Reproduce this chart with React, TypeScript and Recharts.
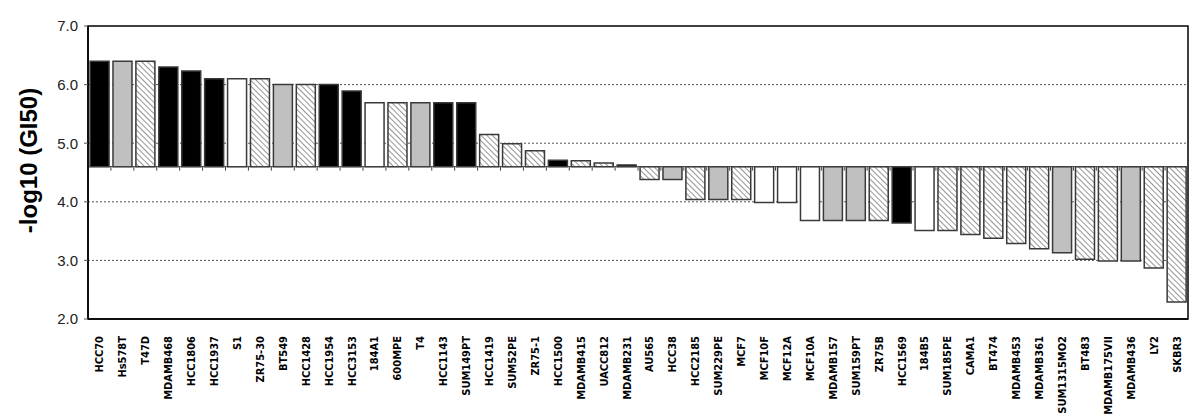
import { Bar, BarChart, CartesianGrid, Cell, ReferenceArea, ReferenceLine, XAxis, YAxis } from "recharts";

const cellLines = [
  "HCC70", "Hs578T", "T47D", "MDAMB468", "HCC1806", "HCC1937", "S1", "ZR75-30",
  "BT549", "HCC1428", "HCC1954", "HCC3153", "184A1", "600MPE", "T4", "HCC1143",
  "SUM149PT", "HCC1419", "SUM52PE", "ZR75-1", "HCC1500", "MDAMB415", "UACC812", "MDAMB231",
  "AU565", "HCC38", "HCC2185", "SUM229PE", "MCF7", "MCF10F", "MCF12A", "MCF10A",
  "MDAMB157", "SUM159PT", "ZR75B", "HCC1569", "184B5", "SUM185PE", "CAMA1", "BT474",
  "MDAMB453", "MDAMB361", "SUM1315MO2", "BT483", "MDAMB175VII", "MDAMB436", "LY2", "SKBR3",
];

const gi50 = [
  6.4, 6.4, 6.4, 6.3, 6.23, 6.1, 6.1, 6.1,
  6.0, 6.0, 6.0, 5.89, 5.69, 5.69, 5.69, 5.69,
  5.69, 5.15, 4.99, 4.87, 4.71, 4.7, 4.66, 4.63,
  4.38, 4.38, 4.04, 4.04, 4.04, 3.99, 3.99, 3.68,
  3.68, 3.68, 3.68, 3.64, 3.51, 3.51, 3.44, 3.38,
  3.29, 3.2, 3.13, 3.02, 2.99, 2.99, 2.87, 2.29,
];

// k = black, g = grey, w = white, h = hatched
const subtype = [
  "k", "g", "h", "k", "k", "k", "w", "h",
  "g", "h", "k", "k", "w", "h", "g", "k",
  "k", "h", "h", "h", "k", "h", "h", "k",
  "h", "g", "h", "g", "h", "w", "w", "w",
  "g", "g", "h", "k", "w", "h", "h", "h",
  "h", "h", "g", "h", "h", "g", "h", "h",
];

const yTicks = [2, 3, 4, 5, 6, 7];
const BASE = 4.6;

const fills: Record<string, string> = {
  k: "#000000",
  g: "#c0c0c0",
  w: "#ffffff",
  h: "url(#hatch)",
};

const data = cellLines.map((name, i) => ({ name, range: [BASE, gi50[i]], type: subtype[i] }));

function XTick({ x, y, payload }: any) {
  const ty = y + 9;
  return (
    <text
      x={x}
      y={ty}
      dy={4}
      transform={`rotate(-90, ${x}, ${ty})`}
      textAnchor="end"
      fontFamily="'DejaVu Sans Condensed', 'DejaVu Sans'"
      fontWeight="bold"
      fontSize={11}
      fill="#000"
    >
      {payload.value}
    </text>
  );
}

function BaseLine(props: any) {
  const { x1, y1, x2 } = props;
  const n = cellLines.length;
  const step = (x2 - x1) / n;
  const ticks = [];
  for (let i = 0; i <= n; i++) {
    const tx = x1 + i * step;
    ticks.push(<line key={i} x1={tx} x2={tx} y1={y1} y2={y1 + 4} stroke="#404040" strokeWidth={1} />);
  }
  return (
    <g>
      <line x1={x1} x2={x2} y1={y1} y2={y1} stroke="#404040" strokeWidth={1} />
      {ticks}
    </g>
  );
}

export default function App() {
  return (
    <BarChart
      width={1192}
      height={410}
      data={data}
      margin={{ top: 18, right: 12, bottom: 0, left: 0 }}
      barCategoryGap="9%"
    >
      <defs>
        <pattern id="hatch" patternUnits="userSpaceOnUse" width={4} height={4} patternTransform="rotate(-45)">
          <rect width={4} height={4} fill="#ffffff" />
          <line x1={0} y1={0} x2={0} y2={4} stroke="#7a7a7a" strokeWidth={1.6} />
        </pattern>
      </defs>
      <CartesianGrid vertical={false} horizontalValues={[3, 4, 5, 6]} stroke="#555" strokeDasharray="2 2" />
      <XAxis
        dataKey="name"
        interval={0}
        height={99}
        tick={<XTick />}
        tickLine={false}
        axisLine={{ stroke: "#000", strokeWidth: 1.5 }}
      />
      <YAxis
        domain={[2, 7]}
        ticks={yTicks}
        width={80}
        tickFormatter={(v) => v.toFixed(1)}
        tick={{ fontFamily: "'Liberation Sans', Arial", fontSize: 15, fill: "#222" }}
        tickSize={4}
        tickMargin={6}
        tickLine={{ stroke: "#555" }}
        axisLine={{ stroke: "#000", strokeWidth: 1.5 }}
        label={{
          content: ({ viewBox }: any) => {
            const cx = viewBox.x + 20;
            const cy = viewBox.y + viewBox.height / 2 - 12;
            return (
              <text
                x={cx}
                y={cy}
                transform={`rotate(-90, ${cx}, ${cy})`}
                textAnchor="middle"
                dominantBaseline="central"
                fontFamily="'Liberation Sans', Arial"
                fontWeight="bold"
                fontSize={24}
                fill="#000"
              >
                -log10 (GI50)
              </text>
            );
          },
        }}
      />
      <ReferenceArea y1={2} y2={7} fill="none" stroke="#000" strokeWidth={1.5} fillOpacity={0} />
      <Bar dataKey="range" stroke="#3a3a3a" strokeWidth={1.5} isAnimationActive={false}>
        {data.map((d, i) => (
          <Cell key={i} fill={fills[d.type]} />
        ))}
      </Bar>
      <ReferenceLine y={BASE} shape={<BaseLine />} />
    </BarChart>
  );
}
